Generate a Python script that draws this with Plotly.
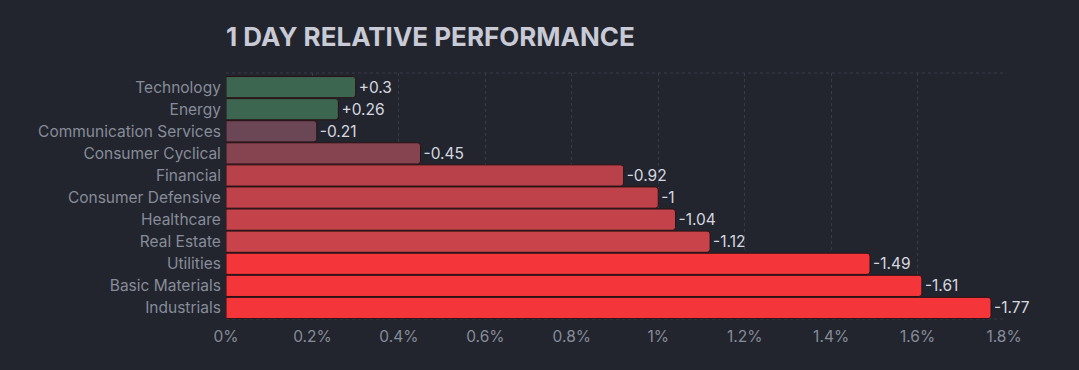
import plotly.graph_objects as go

categories = ["Technology", "Energy", "Communication Services", "Consumer Cyclical",
              "Financial", "Consumer Defensive", "Healthcare", "Real Estate",
              "Utilities", "Basic Materials", "Industrials"]
values = [0.3, 0.26, -0.21, -0.45, -0.92, -1.0, -1.04, -1.12, -1.49, -1.61, -1.77]
bar_colors = ["#3c6650", "#3c6650", "#6b4655", "#864350", "#b9414a", "#bf424a",
              "#c4434a", "#c8444a", "#f4353a", "#f4353a", "#f4353a"]
tick_vals = [0, 0.2, 0.4, 0.6, 0.8, 1.0, 1.2, 1.4, 1.6, 1.8]
tick_text = ["0%", "0.2%", "0.4%", "0.6%", "0.8%", "1%", "1.2%", "1.4%", "1.6%", "1.8%"]

labels = [("+" if v > 0 else "-") + f"{abs(v):g}" for v in values]
lengths = [abs(v) for v in values]

BG = "#22252e"
GRID = "#383c48"
FONT = "Inter"
FS = 15.5

fig = go.Figure(go.Bar(
    x=lengths, y=categories, orientation="h",
    marker=dict(color=bar_colors, line=dict(color="#2a1216", width=1), cornerradius=3),
    text=labels, textposition="outside", cliponaxis=False, constraintext="none",
    textfont=dict(color="#d6d8e0", size=FS, family=FONT),
    hoverinfo="skip",
))

fig.update_layout(
    width=1079, height=370,
    paper_bgcolor=BG, plot_bgcolor=BG,
    margin=dict(l=226, r=75, t=73, b=51),
    bargap=0.04,
    showlegend=False,
    font=dict(family=FONT),
    title=dict(text="<b>1 DAY RELATIVE PERFORMANCE</b>", x=226/1079, xanchor="left",
               y=1 - 37/370, yanchor="middle",
               font=dict(size=26, color="#c8cad6", family=FONT)),
    shapes=[
        dict(type="line", xref="paper", yref="paper", x0=0, x1=1, y0=1, y1=1,
             line=dict(color=GRID, width=1, dash="3px,3px"), layer="below"),
        dict(type="line", xref="paper", yref="paper", x0=0, x1=1, y0=0, y1=0,
             line=dict(color=GRID, width=1, dash="3px,3px"), layer="below"),
    ],
)
fig.update_xaxes(range=[0, 1.8], tickvals=tick_vals, ticktext=tick_text,
                 showgrid=True, gridcolor=GRID, griddash="3px,3px", gridwidth=1,
                 zeroline=False, showline=False,
                 ticks="outside", ticklen=3, tickcolor="rgba(0,0,0,0)",
                 tickfont=dict(color="#878c99", size=FS, family=FONT),
                 fixedrange=True)
fig.update_yaxes(range=[len(categories) - 0.5, -0.64], showgrid=False, zeroline=False,
                 showline=False,
                 ticks="outside", ticklen=1, tickcolor="rgba(0,0,0,0)",
                 tickfont=dict(color="#878c99", size=FS, family=FONT),
                 fixedrange=True)

fig.write_html("out.html", config={"displayModeBar": False},
               post_script="document.body.style.margin='0';")
